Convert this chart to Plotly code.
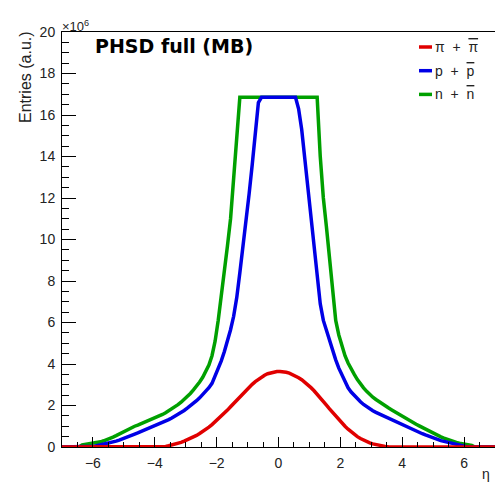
import numpy as np
import plotly.graph_objects as go

# bin edges in eta (0.1 wide bins from -7 to 7)
eta_edges = np.round(np.arange(-7.0, 7.0001, 0.1), 2)
eta_centers = np.round((eta_edges[:-1] + eta_edges[1:]) / 2, 3)

# Entries per bin, in units of 1e6 (rows = one unit of eta each)
pi_counts = (
    [0] * 30
    + [0, 0, 0, 0.03, 0.06, 0.09, 0.13, 0.17, 0.22, 0.28]
    + [0.34, 0.41, 0.48, 0.56, 0.65, 0.74, 0.85, 0.96, 1.08, 1.21]
    + [1.34, 1.48, 1.63, 1.78, 1.94, 2.1, 2.26, 2.42, 2.58, 2.73]
    + [2.88, 3.02, 3.15, 3.27, 3.37, 3.46, 3.53, 3.58, 3.62, 3.64]
    + [3.64, 3.63, 3.6, 3.56, 3.5, 3.43, 3.34, 3.24, 3.13, 3.01]
    + [2.86, 2.71, 2.55, 2.38, 2.2, 2.02, 1.84, 1.66, 1.48, 1.31]
    + [1.15, 1.0, 0.86, 0.73, 0.61, 0.5, 0.41, 0.33, 0.26, 0.2]
    + [0.15, 0.11, 0.08, 0.05, 0.03, 0.01, 0, 0, 0, 0]
    + [0] * 30
)

p_counts = (
    [0] * 10
    + [0.04, 0.07, 0.1, 0.13, 0.16, 0.2, 0.24, 0.28, 0.33, 0.38]
    + [0.44, 0.5, 0.56, 0.62, 0.68, 0.74, 0.8, 0.86, 0.92, 0.98]
    + [1.06, 1.12, 1.18, 1.25, 1.32, 1.4, 1.48, 1.57, 1.66, 1.76]
    + [1.87, 1.98, 2.1, 2.23, 2.37, 2.52, 2.68, 2.86, 3.07, 3.4]
    + [3.75, 4.15, 4.6, 5.1, 5.65, 6.3, 7.2, 8.4, 9.6, 10.7]
    + [12.2, 13.6, 15.1, 16.6, 16.85, 16.85, 16.85, 16.85, 16.85, 16.85]
    + [16.85, 16.85, 16.85, 16.85, 16.85, 16.85, 16.3, 15.3, 13.9, 12.5]
    + [11.0, 9.4, 8.0, 6.9, 6.1, 5.6, 5.2, 4.7, 4.2, 3.8]
    + [3.45, 3.12, 2.85, 2.65, 2.48, 2.32, 2.18, 2.05, 1.94, 1.84]
    + [1.75, 1.67, 1.6, 1.53, 1.46, 1.39, 1.32, 1.25, 1.18, 1.11]
    + [1.02, 0.95, 0.88, 0.82, 0.76, 0.7, 0.64, 0.58, 0.52, 0.46]
    + [0.41, 0.36, 0.31, 0.27, 0.23, 0.19, 0.15, 0.12, 0.09, 0.06]
    + [0.03, 0, 0, 0, 0, 0, 0, 0, 0, 0]
)

n_counts = (
    [0, 0, 0, 0, 0, 0, 0.1, 0.12, 0.14, 0.16]
    + [0.18, 0.21, 0.25, 0.3, 0.35, 0.41, 0.48, 0.55, 0.63, 0.72]
    + [0.8, 0.87, 0.94, 1.0, 1.06, 1.12, 1.18, 1.24, 1.3, 1.36]
    + [1.42, 1.49, 1.57, 1.65, 1.74, 1.83, 1.93, 2.04, 2.16, 2.29]
    + [2.43, 2.58, 2.75, 2.93, 3.13, 3.36, 3.62, 3.95, 4.4, 5.1]
    + [6.1, 7.2, 8.4, 9.7, 11.0, 12.9, 15.2, 16.85, 16.85, 16.85]
    + [16.85] * 10
    + [16.85] * 10
    + [16.85, 16.85, 16.85, 14.0, 12.0, 10.6, 9.0, 7.3, 6.1, 5.4]
    + [4.85, 4.4, 4.05, 3.75, 3.5, 3.25, 3.03, 2.85, 2.68, 2.53]
    + [2.4, 2.29, 2.18, 2.08, 1.98, 1.89, 1.8, 1.71, 1.63, 1.55]
    + [1.42, 1.34, 1.26, 1.18, 1.1, 1.02, 0.94, 0.86, 0.78, 0.7]
    + [0.63, 0.56, 0.49, 0.43, 0.37, 0.32, 0.27, 0.22, 0.18, 0.15]
    + [0.12, 0.1, 0.08, 0, 0, 0, 0, 0, 0, 0]
)

OVER = "<span style='text-decoration:overline'>{}</span>"
NB = "\u00a0"
series_names = [
    "n" + NB * 2 + "+" + NB * 2 + OVER.format("n"),
    "p" + NB * 2 + "+" + NB * 2 + OVER.format("p"),
    "\u03c0" + NB * 2 + "+" + NB * 2 + OVER.format("\u03c0"),
]
series_colors = ["#00a000", "#0000e6", "#e00000"]
series_data = [n_counts, p_counts, pi_counts]

y_ticks = [0, 2, 4, 6, 8, 10, 12, 14, 16, 18, 20]
x_ticks = [-6, -4, -2, 0, 2, 4, 6]

FONT = "Liberation Sans, Arial, Helvetica, sans-serif"
WIDE_BOLD = "DejaVu Sans, Liberation Sans, sans-serif"

fig = go.Figure()
for name, color, vals in zip(series_names, series_colors, series_data):
    xs = [float(eta_edges[0])] + list(eta_centers) + [float(eta_edges[-1])]
    ys = [vals[0]] + list(vals) + [vals[-1]]
    fig.add_trace(go.Scatter(
        x=xs, y=ys, mode="lines",
        line=dict(color=color, width=3.5),
        name=name, showlegend=False,
    ))

fig.update_layout(
    width=495, height=482,
    margin=dict(l=62, r=0, t=32, b=35),
    paper_bgcolor="white", plot_bgcolor="white",
    font=dict(family=FONT, size=14, color="#222"),
    xaxis=dict(
        range=[-7, 7], tickvals=x_ticks, ticks="inside", ticklen=10,
        tickcolor="black", tickwidth=1, showgrid=False, zeroline=False,
        showline=True, linecolor="black", linewidth=1, mirror=True,
        minor=dict(ticks="inside", ticklen=5, dtick=0.5, tickcolor="black", showgrid=False),
        ticklabelstandoff=3,
    ),
    yaxis=dict(
        range=[0, 20], tickvals=y_ticks, ticks="inside", ticklen=14,
        tickcolor="black", tickwidth=1, showgrid=False, zeroline=False,
        showline=True, linecolor="black", linewidth=1, mirror=True,
        minor=dict(ticks="inside", ticklen=7, dtick=0.5, tickcolor="black", showgrid=False),
        ticklabelstandoff=3,
    ),
)

annotations = [
    dict(text="<b>PHSD full (MB)</b>", x=0, xref="paper", xshift=31,
         y=1, yref="paper", yshift=-1, xanchor="left", yanchor="top",
         showarrow=False, font=dict(size=19, color="black", family=WIDE_BOLD)),
    dict(text="\u00d710<sup>6</sup>", x=0, xref="paper", xshift=-2,
         y=1, yref="paper", yshift=-4, xanchor="left", yanchor="bottom",
         showarrow=False, font=dict(size=13, color="#222", family=FONT)),
    dict(text="Entries (a.u.)", x=0, xref="paper", xshift=-37,
         y=1, yref="paper", yshift=3, xanchor="center", yanchor="top",
         textangle=-90, showarrow=False, font=dict(size=16, color="#222", family=FONT)),
    dict(text="\u03b7", x=1, xref="paper", xshift=-3,
         y=0, yref="paper", yshift=-17, xanchor="right", yanchor="top",
         showarrow=False, font=dict(size=14, color="#222", family=FONT)),
]

# manual legend (ROOT style)
leg_rows = [(series_names[2], series_colors[2]),
            (series_names[1], series_colors[1]),
            (series_names[0], series_colors[0])]
shapes = []
for i, (lab, col) in enumerate(leg_rows):
    ypix = 47 + i * 23.7
    yp = 1 - (ypix - 32) / 415.0
    shapes.append(dict(type="line", xref="paper", yref="paper",
                       x0=(419 - 62) / 433.0, x1=(432 - 62) / 433.0, y0=yp, y1=yp,
                       line=dict(color=col, width=3.5)))
    annotations.append(dict(text=lab, x=(433 - 62) / 433.0, xref="paper",
                            y=yp, yref="paper", xanchor="left", yanchor="middle",
                            showarrow=False, font=dict(size=14, color="#222", family=FONT)))

fig.update_layout(annotations=annotations, shapes=shapes)

fig.write_html("out.html")
